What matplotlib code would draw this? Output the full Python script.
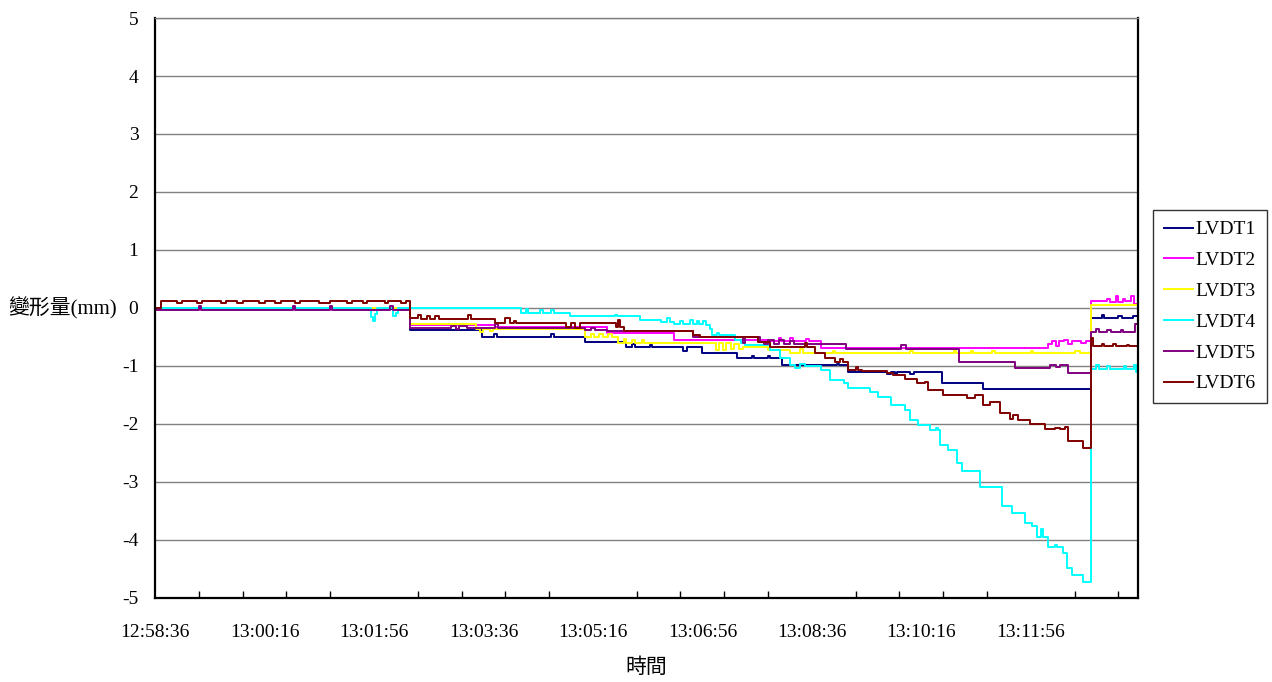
import matplotlib
matplotlib.use("Agg")
import matplotlib.pyplot as plt

plt.rcParams['font.family'] = ['Liberation Serif', 'Noto Sans CJK TC']
plt.rcParams['axes.unicode_minus'] = False

# time axis: seconds since 12:58:36 (one sample per second)
tick_secs = [0, 100, 200, 300, 400, 500, 600, 700, 800]
tick_labels = ['12:58:36', '13:00:16', '13:01:56', '13:03:36', '13:05:16',
               '13:06:56', '13:08:36', '13:10:16', '13:11:56']
t_end = 898

names = ['LVDT1', 'LVDT2', 'LVDT3', 'LVDT4', 'LVDT5', 'LVDT6']
colors = ['#000080', '#FF00FF', '#FFFF00', '#00FFFF', '#800080', '#800000']

# step data: value holds from each time until the next one
lvdt1_t = [0, 233, 299, 310, 312, 362, 364, 393, 430, 436, 438, 452, 454, 482, 486,
           500, 532, 545, 547, 560, 562, 573, 623, 625, 633, 669, 672, 676, 678, 690,
           693, 719, 756, 855, 865, 867, 880, 883, 893, 897]
lvdt1_v = [-0.02, -0.38, -0.50, -0.44, -0.50, -0.44, -0.50, -0.58, -0.68, -0.62, -0.68,
           -0.63, -0.68, -0.75, -0.68, -0.78, -0.86, -0.82, -0.86, -0.83, -0.86, -0.99,
           -0.96, -0.99, -1.11, -1.14, -1.11, -1.14, -1.11, -1.13, -1.11, -1.29, -1.40,
           -0.17, -0.12, -0.17, -0.13, -0.17, -0.14, -0.14]

lvdt2_t = [0, 233, 311, 413, 474, 560, 570, 572, 580, 583, 595, 597, 608, 816, 819,
           823, 826, 830, 834, 838, 846, 850, 855, 870, 872, 878, 880, 884, 886, 892,
           894, 897]
lvdt2_v = [0.0, -0.30, -0.33, -0.43, -0.55, -0.57, -0.52, -0.57, -0.52, -0.57, -0.53,
           -0.57, -0.69, -0.62, -0.57, -0.66, -0.57, -0.55, -0.62, -0.57, -0.60, -0.57,
           0.12, 0.15, 0.10, 0.20, 0.10, 0.15, 0.12, 0.20, 0.07, 0.07]

lvdt3_t = [0, 233, 293, 297, 300, 306, 309, 393, 398, 401, 406, 409, 414, 417, 423,
           428, 430, 436, 438, 445, 447, 512, 515, 519, 522, 526, 529, 533, 537, 560,
           580, 589, 592, 619, 621, 690, 692, 730, 732, 745, 747, 765, 767, 800, 802,
           840, 845, 855, 897]
lvdt3_v = [0.0, -0.28, -0.36, -0.42, -0.36, -0.40, -0.36, -0.50, -0.44, -0.50, -0.44,
           -0.50, -0.45, -0.50, -0.60, -0.53, -0.60, -0.55, -0.60, -0.56, -0.60, -0.72,
           -0.60, -0.72, -0.60, -0.70, -0.62, -0.70, -0.68, -0.72, -0.78, -0.70, -0.78,
           -0.74, -0.78, -0.74, -0.78, -0.74, -0.78, -0.74, -0.78, -0.74, -0.78, -0.74,
           -0.78, -0.74, -0.78, 0.06, 0.06]

lvdt4_t = [0, 197, 199, 201, 203, 217, 220, 222, 233, 334, 339, 341, 352, 354, 362,
           364, 379, 420, 422, 443, 462, 468, 470, 474, 480, 482, 489, 491, 495, 497,
           501, 503, 507, 509, 513, 515, 530, 535, 539, 562, 571, 580, 585, 589, 594,
           608, 617, 629, 633, 653, 660, 672, 685, 690, 697, 708, 713, 715, 717, 724,
           733, 737, 754, 774, 783, 795, 801, 806, 809, 811, 816, 822, 824, 829, 833,
           838, 848, 855, 860, 862, 870, 872, 885, 887, 894, 896, 897]
lvdt4_v = [0.0, -0.15, -0.22, -0.10, 0.0, -0.14, -0.08, 0.0, 0.0, -0.09, -0.02, -0.09,
           -0.04, -0.09, -0.03, -0.09, -0.14, -0.12, -0.14, -0.20, -0.24, -0.18, -0.24,
           -0.28, -0.22, -0.28, -0.20, -0.28, -0.22, -0.28, -0.22, -0.30, -0.36, -0.47,
           -0.43, -0.47, -0.55, -0.60, -0.64, -0.72, -0.86, -0.98, -1.03, -0.97, -1.00,
           -1.07, -1.24, -1.29, -1.38, -1.45, -1.53, -1.67, -1.76, -1.93, -2.02, -2.10,
           -2.07, -2.10, -2.36, -2.45, -2.67, -2.81, -3.09, -3.41, -3.53, -3.70, -3.76,
           -3.95, -3.81, -3.95, -4.12, -4.09, -4.12, -4.22, -4.48, -4.60, -4.72, -1.05,
           -0.98, -1.05, -1.00, -1.05, -1.00, -1.05, -0.98, -1.10, -1.10]

lvdt5_t = [0, 40, 42, 126, 128, 160, 162, 215, 217, 233, 270, 275, 278, 285, 311,
           313, 393, 398, 402, 413, 491, 537, 539, 553, 556, 560, 565, 570, 575, 580,
           584, 631, 681, 686, 734, 786, 818, 823, 827, 834, 855, 860, 862, 870, 873,
           882, 884, 895, 897]
lvdt5_v = [-0.03, 0.03, -0.03, 0.04, -0.03, 0.03, -0.03, 0.04, -0.03, -0.34, -0.31,
           -0.36, -0.31, -0.34, -0.28, -0.34, -0.38, -0.34, -0.38, -0.40, -0.50, -0.60,
           -0.50, -0.58, -0.62, -0.56, -0.62, -0.56, -0.62, -0.57, -0.62, -0.70, -0.64,
           -0.70, -0.93, -1.03, -0.98, -1.02, -0.98, -1.12, -0.41, -0.37, -0.41, -0.38,
           -0.41, -0.38, -0.41, -0.28, -0.27]

lvdt6_t = [0, 5, 20, 25, 38, 43, 60, 65, 75, 80, 95, 100, 110, 115, 128, 132, 150,
           160, 175, 180, 190, 194, 210, 213, 225, 229, 233, 240, 243, 248, 251, 256,
           259, 286, 289, 311, 320, 324, 328, 330, 375, 380, 384, 388, 421, 423, 425,
           428, 491, 498, 551, 562, 594, 596, 603, 612, 621, 626, 628, 633, 640, 642,
           646, 669, 674, 685, 696, 703, 706, 720, 742, 749, 756, 763, 772, 781, 784,
           788, 799, 813, 822, 827, 831, 834, 848, 855, 857, 865, 867, 875, 878, 888,
           890, 897]
lvdt6_v = [0.0, 0.12, 0.08, 0.12, 0.08, 0.12, 0.08, 0.12, 0.08, 0.12, 0.08, 0.12,
           0.08, 0.12, 0.08, 0.12, 0.08, 0.12, 0.08, 0.12, 0.08, 0.12, 0.08, 0.12, 0.08,
           0.12, -0.17, -0.12, -0.19, -0.13, -0.19, -0.14, -0.19, -0.12, -0.19, -0.26,
           -0.17, -0.26, -0.22, -0.26, -0.33, -0.26, -0.34, -0.26, -0.33, -0.20, -0.33,
           -0.40, -0.47, -0.50, -0.58, -0.67, -0.60, -0.67, -0.78, -0.86, -0.93, -0.88,
           -0.93, -1.07, -1.02, -1.07, -1.09, -1.12, -1.15, -1.22, -1.29, -1.27, -1.41,
           -1.50, -1.55, -1.50, -1.67, -1.62, -1.81, -1.91, -1.84, -1.93, -2.00, -2.09,
           -2.07, -2.09, -2.05, -2.29, -2.41, -0.52, -0.66, -0.62, -0.66, -0.62, -0.66,
           -0.63, -0.66, -0.66]

series_t = [lvdt1_t, lvdt2_t, lvdt3_t, lvdt4_t, lvdt5_t, lvdt6_t]
series_v = [lvdt1_v, lvdt2_v, lvdt3_v, lvdt4_v, lvdt5_v, lvdt6_v]

fig = plt.figure(figsize=(12.72, 6.82), dpi=100)
ax = fig.add_axes([0.1219, 0.1232, 0.7728, 0.8504])

for t, v, c, n in zip(series_t, series_v, colors, names):
    ax.plot(t, v, color=c, lw=1.4, drawstyle='steps-post', label=n)

ax.set_xlim(0, t_end)
ax.set_ylim(-5, 5)
ax.set_yticks(range(-5, 6))
ax.yaxis.grid(True, color='#808080', lw=1.0)
ax.set_axisbelow(True)
ax.tick_params(axis='y', length=0, pad=12, labelsize=14)

ax.set_xticks(tick_secs)
ax.set_xticklabels(tick_labels)
ax.set_xticks(range(40, t_end, 40), minor=True)
ax.tick_params(axis='x', which='major', length=0, pad=19, labelsize=14)
ax.tick_params(axis='x', which='minor', direction='in', length=5, width=1.0)

for s in ['left', 'bottom', 'right']:
    ax.spines[s].set_color('black')
    ax.spines[s].set_linewidth(1.6)
ax.spines['top'].set_color('#808080')
ax.spines['top'].set_linewidth(1.0)

fig.text(8 / 1272, 1 - 308 / 682, '變形量(mm)', ha='left', va='center', fontsize=15)
fig.text(646 / 1272, 1 - 668 / 682, '時間', ha='center', va='center', fontsize=15)

leg = fig.legend(loc='upper left', bbox_to_anchor=(1153 / 1272, 1 - 210 / 682),
                 fontsize=14, frameon=True, fancybox=False, edgecolor='black',
                 handlelength=1.5, handletextpad=0.15, labelspacing=0.68,
                 borderpad=0.55, borderaxespad=0)
leg.get_frame().set_linewidth(1.0)

fig.savefig('out.png', dpi=100)
